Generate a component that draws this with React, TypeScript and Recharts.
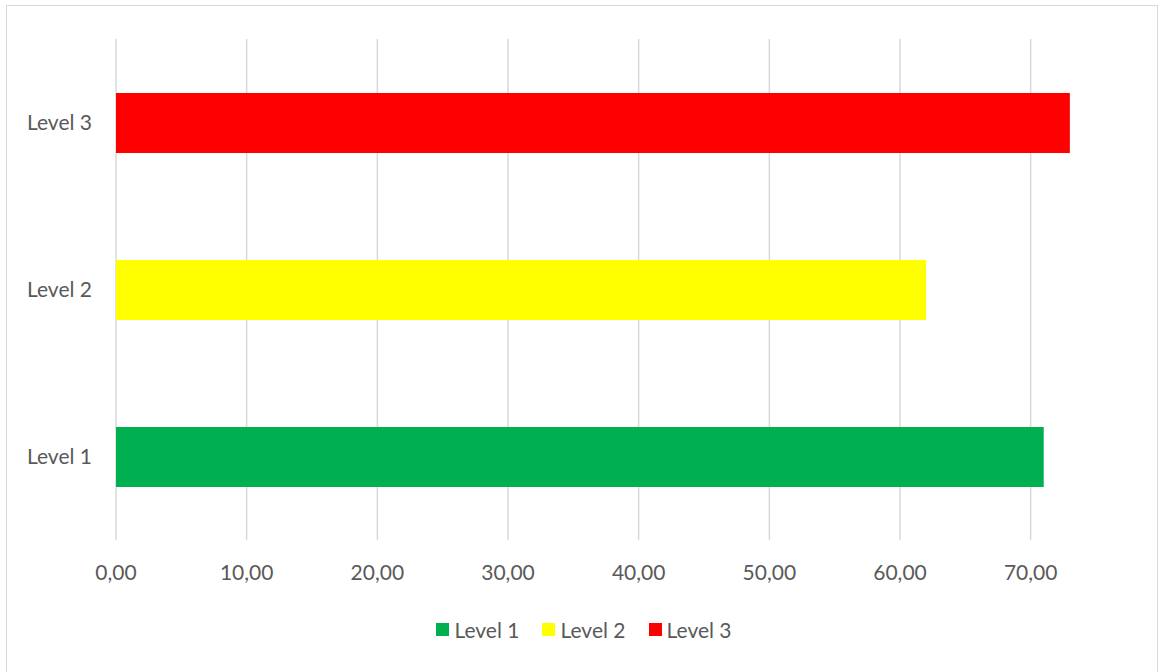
import { BarChart, Bar, XAxis, YAxis, CartesianGrid, Legend, Cell } from 'recharts'

const levels = ['Level 1', 'Level 2', 'Level 3']
const scores = [71, 62, 73]
const levelColors = ['#00B050', '#FFFF00', '#FF0000']
const xTicks = [0, 10, 20, 30, 40, 50, 60, 70]
const xMax = 75

const FONT = 'Lato, "Noto Sans", sans-serif'
const TEXT_COLOR = '#595959'

const rows = levels.map((level, i) => ({ level, score: scores[i] }))

const formatTick = (v: number) => v.toFixed(2).replace('.', ',')

// grid lines only at the labelled ticks, not at the right edge of the plot
const gridX = ({ offset }: any) => xTicks.map((t) => offset.left + (t / xMax) * offset.width)

function LevelLegend() {
    return (
        <div style={{ display: 'flex', justifyContent: 'center', alignItems: 'center', paddingLeft: 10, fontFamily: FONT, fontSize: 21, color: TEXT_COLOR }}>
            {levels.map((level, i) => (
                <div key={level} style={{ display: 'flex', alignItems: 'center', marginRight: i < levels.length - 1 ? 23 : 0 }}>
                    <span style={{ width: 13, height: 13, background: levelColors[i], marginRight: 5, display: 'inline-block' }} />
                    <span>{level}</span>
                </div>
            ))}
        </div>
    )
}

export default function App() {
    return (
        <div style={{ position: 'absolute', left: 0, top: 0, width: 1158, height: 672, background: '#fff' }}>
            <div
                style={{
                    position: 'absolute',
                    left: 6,
                    top: 5,
                    width: 1152,
                    height: 668,
                    border: '1.5px solid #d9d9d9',
                    boxSizing: 'border-box',
                }}
            />
            <BarChart
                width={1158}
                height={672}
                data={rows}
                layout="vertical"
                margin={{ top: 39, right: 62, bottom: 47, left: 16 }}
                style={{ position: 'absolute', left: 0, top: 0 }}
            >
                <CartesianGrid horizontal={false} stroke="#d9d9d9" strokeWidth={1.5} verticalCoordinatesGenerator={gridX} />
                <XAxis
                    type="number"
                    domain={[0, xMax]}
                    ticks={xTicks}
                    tickFormatter={formatTick}
                    axisLine={false}
                    tickLine={false}
                    tickSize={0}
                    tickMargin={25}
                    height={60}
                    tick={{ fontFamily: FONT, fontSize: 21, fill: TEXT_COLOR }}
                />
                <YAxis
                    type="category"
                    dataKey="level"
                    reversed
                    width={100}
                    axisLine={false}
                    tickLine={false}
                    tickSize={0}
                    tickMargin={24}
                    tick={{ fontFamily: FONT, fontSize: 21, fill: TEXT_COLOR }}
                />
                <Legend verticalAlign="bottom" content={<LevelLegend />} wrapperStyle={{ top: 617, left: 0, width: 1158 }} />
                <Bar dataKey="score" barSize={60} isAnimationActive={false}>
                    {rows.map((row, i) => (
                        <Cell key={row.level} fill={levelColors[i]} />
                    ))}
                </Bar>
            </BarChart>
        </div>
    )
}
